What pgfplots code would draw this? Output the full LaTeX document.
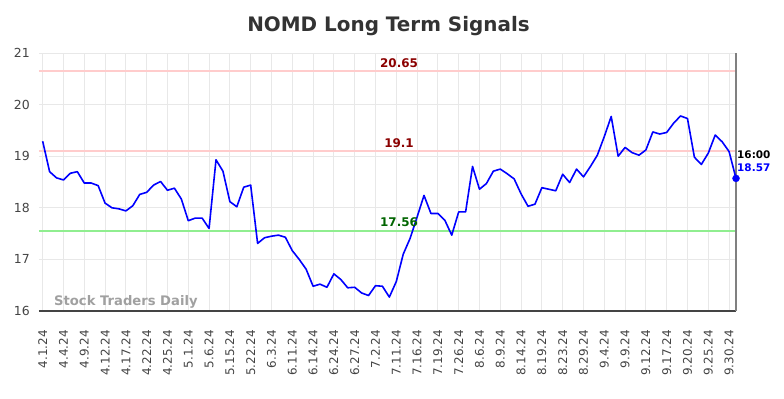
\documentclass[border=0pt]{standalone}
\usepackage{fontspec}
\setmainfont{DejaVu Sans}
\usepackage{pgfplots}
\pgfplotsset{compat=1.18}
\definecolor{gridc}{HTML}{E8E8E8}
\definecolor{titlec}{HTML}{333333}
\definecolor{tickc}{HTML}{444444}
\definecolor{resc}{HTML}{FFCCCC}
\definecolor{supc}{HTML}{90EE90}
\definecolor{reslab}{HTML}{8B0000}
\definecolor{suplab}{HTML}{006400}
\definecolor{wmark}{HTML}{A0A0A0}
\begin{document}
\begin{tikzpicture}[x=1bp,y=1bp]
\path[use as bounding box] (-39,-87) rectangle (745,311);
\node[font=\fontsize{20}{24}\selectfont\bfseries, text=titlec] at (349.5,285) {NOMD Long Term Signals};
\begin{axis}[
  at={(0,0)}, anchor=south west, scale only axis,
  width=697bp, height=258bp,
  xmin=-0.53, xmax=100, ymin=16, ymax=21,
  axis line style={draw=none},
  major tick length=0pt,
  grid=major, grid style={gridc, line width=1bp},
  xtick={0,3,...,99},
  xticklabels={4.1.24,4.4.24,4.9.24,4.12.24,4.17.24,4.22.24,4.25.24,5.1.24,5.6.24,5.15.24,5.22.24,6.3.24,6.11.24,6.14.24,6.24.24,6.27.24,7.2.24,7.11.24,7.16.24,7.19.24,7.26.24,8.6.24,8.9.24,8.14.24,8.19.24,8.23.24,8.29.24,9.4.24,9.9.24,9.12.24,9.17.24,9.20.24,9.25.24,9.30.24},
  xticklabel style={rotate=90, anchor=east, inner sep=0pt, font=\fontsize{12}{14}\selectfont, text=tickc},
  xticklabel shift=19bp,
  ytick={16,17,18,19,20,21},
  yticklabel style={anchor=east, inner sep=0pt, font=\fontsize{12.5}{14}\selectfont, text=tickc},
  yticklabel shift=9bp,
  /pgf/number format/assume math mode=true,
  clip=false,
]
\addplot[resc, line width=2bp] coordinates {(-0.53,20.65) (100,20.65)};
\addplot[resc, line width=2bp] coordinates {(-0.53,19.1) (100,19.1)};
\addplot[supc, line width=2bp] coordinates {(-0.53,17.56) (100,17.56)};
\addplot[tickc, line width=1.5bp] coordinates {(-0.53,16) (100,16)};
\addplot[gray, line width=2.2bp] coordinates {(100,16) (100,21)};
\addplot[blue, line width=1.6bp, line join=round] coordinates {
(0,19.29) (1,18.70) (2,18.58) (3,18.54) (4,18.67) (5,18.70) (6,18.48) (7,18.48) (8,18.43) (9,18.09)
(10,18.00) (11,17.98) (12,17.94) (13,18.04) (14,18.26) (15,18.30) (16,18.44) (17,18.51) (18,18.34) (19,18.38)
(20,18.17) (21,17.75) (22,17.80) (23,17.80) (24,17.60) (25,18.93) (26,18.71) (27,18.12) (28,18.02) (29,18.40)
(30,18.44) (31,17.31) (32,17.42) (33,17.45) (34,17.47) (35,17.43) (36,17.17) (37,17.00) (38,16.81) (39,16.48)
(40,16.52) (41,16.46) (42,16.72) (43,16.61) (44,16.45) (45,16.46) (46,16.35) (47,16.30) (48,16.49) (49,16.48)
(50,16.27) (51,16.57) (52,17.10) (53,17.41) (54,17.82) (55,18.24) (56,17.89) (57,17.89) (58,17.76) (59,17.47)
(60,17.92) (61,17.92) (62,18.80) (63,18.36) (64,18.47) (65,18.71) (66,18.75) (67,18.66) (68,18.56) (69,18.27)
(70,18.03) (71,18.07) (72,18.39) (73,18.36) (74,18.33) (75,18.65) (76,18.49) (77,18.75) (78,18.60) (79,18.80)
(80,19.02) (81,19.38) (82,19.77) (83,19.00) (84,19.17) (85,19.07) (86,19.02) (87,19.12) (88,19.47) (89,19.43)
(90,19.46) (91,19.64) (92,19.78) (93,19.73) (94,18.98) (95,18.84) (96,19.06) (97,19.41) (98,19.28) (99,19.09)
(100,18.57)};
\addplot[only marks, mark=*, blue, mark size=3.5bp] coordinates {(100,18.57)};
\node[anchor=base, inner sep=0pt, yshift=3.6bp, font=\fontsize{12}{14}\selectfont\bfseries, text=reslab] at (axis cs:51.4,20.65) {20.65};
\node[anchor=base, inner sep=0pt, yshift=3.6bp, font=\fontsize{12}{14}\selectfont\bfseries, text=reslab] at (axis cs:51.4,19.1) {19.1};
\node[anchor=base, inner sep=0pt, yshift=3.6bp, font=\fontsize{12}{14}\selectfont\bfseries, text=suplab] at (axis cs:51.4,17.56) {17.56};
\node[anchor=base west, inner sep=0pt, xshift=1bp, yshift=20bp, font=\fontsize{10.5}{12}\selectfont\bfseries, text=black] at (axis cs:100,18.57) {16:00};
\node[anchor=base west, inner sep=0pt, xshift=1bp, yshift=7bp, font=\fontsize{10.5}{12}\selectfont\bfseries, text=blue] at (axis cs:100,18.57) {18.57};
\end{axis}
\node[anchor=west, inner sep=0pt, font=\fontsize{13.2}{15}\selectfont\bfseries, text=wmark] at (15,9) {Stock Traders Daily};
\end{tikzpicture}
\end{document}
